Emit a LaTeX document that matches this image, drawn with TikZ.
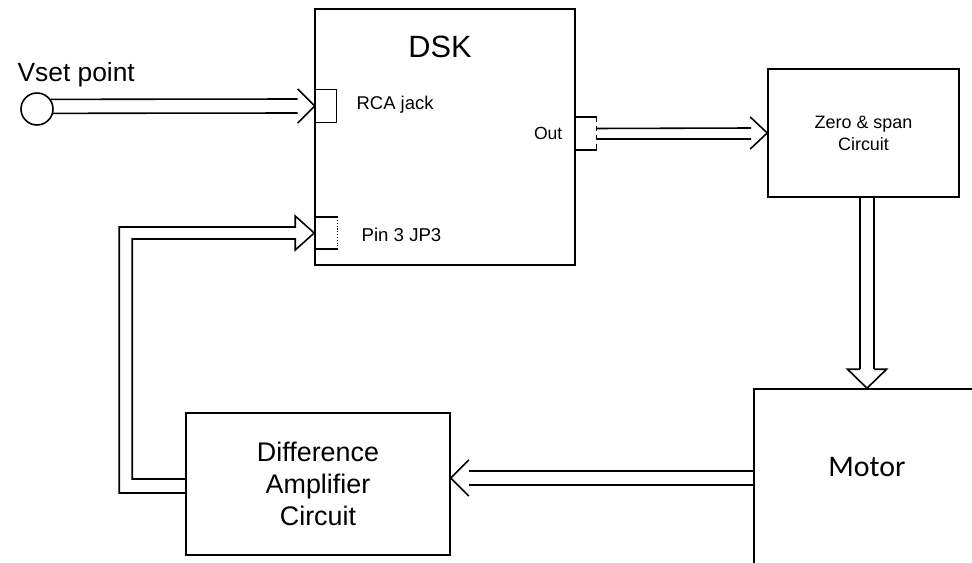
\documentclass[tikz,border=0pt]{standalone}
\usepackage{fontspec}
\setmainfont{Liberation Sans}
\newfontfamily\motorfont{Carlito}
\usetikzlibrary{calc}

\begin{document}
\begin{tikzpicture}[x=0.02cm, y=-0.02cm, line width=0.9pt,
    bloco/.style={rectangle, draw, inner sep=0pt},
    porta/.style={rectangle, inner sep=0pt}]
  \clip (0,0) rectangle (972,563);

  % Nós
  \node[circle, draw, minimum size=0.64cm, inner sep=0pt] (vset) at (37,109) {};
  \node[anchor=base west, font=\fontsize{15}{18}\selectfont] (vsetlbl) at (11,82) {Vset point};

  \node[bloco, minimum width=5.2cm, minimum height=5.12cm] (dsk) at (445,137) {};
  \node[font=\fontsize{17.5}{21}\selectfont] (dsklbl) at (440,47) {DSK};
  \node[porta, draw, minimum width=0.42cm, minimum height=0.66cm] (rca) at (326,106) {};
  \node[anchor=west, font=\fontsize{10.5}{12}\selectfont] (rcalbl) at (350,105) {RCA jack};
  \node[porta, minimum width=0.42cm, minimum height=0.62cm] (out) at (585.5,133.5) {};
  \node[anchor=east, font=\fontsize{10}{12}\selectfont] (outlbl) at (569,133) {Out};
  \node[porta, minimum width=0.44cm, minimum height=0.6cm] (pin) at (326,233) {};
  \node[anchor=west, font=\fontsize{10.6}{12}\selectfont] (pinlbl) at (355,235) {Pin 3 JP3};

  \node[bloco, minimum width=3.82cm, minimum height=2.56cm, align=center,
        font=\fontsize{10.2}{12.5}\selectfont] (zero) at (863.5,133) {Zero \& span\\Circuit};
  \node[bloco, minimum width=4.52cm, minimum height=4cm] (motor) at (867,489) {};
  \node[font=\motorfont\fontsize{17}{20}\selectfont] (motorlbl) at (867,467) {Motor};
  \node[bloco, minimum width=5.28cm, minimum height=2.84cm, align=center,
        font=\fontsize{15.3}{18.1}\selectfont] (diff) at (318,484) {Difference\\Amplifier\\Circuit};

  % Portas
  \draw (out.north west) -- (out.north east);
  \draw (out.south west) -- (out.south east);
  \draw[densely dashed, line width=0.6pt] (out.north east) -- (out.south east);
  \draw (pin.north west) -- (pin.north east);
  \draw (pin.south west) -- (pin.south east);
  \draw[densely dotted, line width=0.6pt] (pin.north east) -- (pin.south east);

  % Setas
  \draw (vset.35) -- ($(rca.west)+(-17,-7)$);
  \draw (vset.-15) -- ($(rca.west)+(-17,7)$);
  \draw ($(rca.west)+(-17,-17)$) -- (rca.west) -- ($(rca.west)+(-17,17)$);

  \draw ($(out.east)+(0,-5)$) -- ($(zero.west)+(-16,-5)$);
  \draw ($(out.east)+(0,5.5)$) -- ($(zero.west)+(-16,6)$);
  \draw ($(zero.west)+(-17,-16)$) -- (zero.west) -- ($(zero.west)+(-17,16)$);

  \draw ($(motor.north)+(-7,-19)$) -- ($(motor.north)+(-7,-192)$);
  \draw ($(motor.north)+(7,-19)$) -- ($(motor.north)+(7,-192)$);
  \draw ($(motor.north)+(-7,-19)$) -- ++(-12.5,0) -- (motor.north) -- ++(19.5,-19) -- ++(-12.5,0);

  \draw ($(motor.west)+(0,-18)$) -- ($(diff.east)+(18,-13)$);
  \draw ($(motor.west)+(0,-4)$) -- ($(diff.east)+(18,1)$);
  \draw ($(diff.east)+(18,-24)$) -- ($(diff.east)+(0,-6)$) -- ($(diff.east)+(18,12)$);

  \draw ($(diff.west)+(0,9)$) -| ($(pin.west)+(-195,-6)$) -- ($(pin.west)+(-19,-6)$)
        -- ++(0,-11) -- (pin.west) -- ++(-19,17) -- ++(0,-11)
        -- ($(pin.west)+(-182,6)$) |- ($(diff.west)+(0,-5)$);
\end{tikzpicture}
\end{document}
